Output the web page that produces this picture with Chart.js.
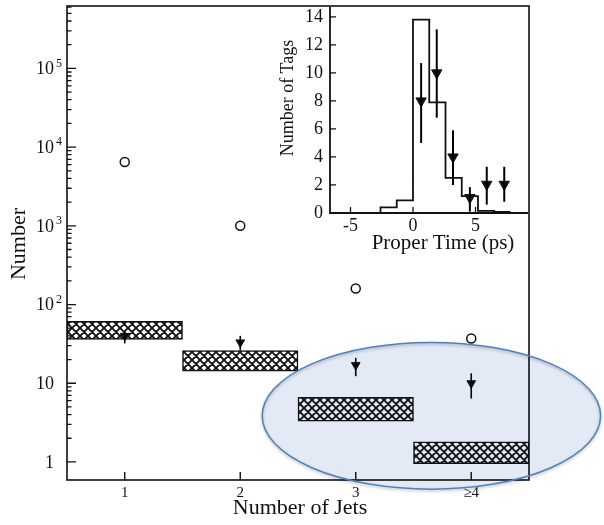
<!DOCTYPE html>
<html>
<head>
<meta charset="utf-8">
<title>Tagged events vs number of jets</title>
<script src="https://cdn.jsdelivr.net/npm/chart.js@4.4.0/dist/chart.umd.min.js"></script>
<style>
  html, body { margin: 0; padding: 0; background: #fff; }
  #wrap { position: relative; width: 604px; height: 525px; overflow: hidden; }
  #mainChart { position: absolute; left: 0; top: 0; }
  #insetChart { position: absolute; left: 270px; top: 0; }
</style>
</head>
<body>
<div id="wrap">
  <canvas id="mainChart" width="604" height="525"></canvas>
  <canvas id="insetChart" width="270" height="260"></canvas>
</div>
<script>
// main plot: events per jet bin
const jetBins = [1, 2, 3, 4];
const jetTickLabels = ['1', '2', '3', '\u22654'];
const yDecades = [1, 10, 100, 1000, 10000, 100000];
const yDecadeBase = ['1', '10', '10', '10', '10', '10'];
const yDecadeExp = ['', '', '2', '3', '4', '5'];

const pretagEvents = [6450, 1000, 160, 37];
const taggedEvents = [40, 33, 17, 10];
const taggedLow = [32, 26, 12.3, 6.4];
const taggedHigh = [44, 40, 21, 13.4];
const bkgLow = [36, 14.2, 3.3, 0.95];
const bkgHigh = [61, 26, 6.6, 1.8];

// inset: proper time of tags
const timeBinEdges = [-2.6, -1.3, 0, 1.3, 2.6, 3.9, 5.2, 6.5, 7.8];
const timeBinCounts = [0.4, 0.9, 13.8, 7.9, 2.5, 1.2, 0.15, 0.08];
const tagTimes = [0.65, 1.9, 3.2, 4.55, 5.9, 7.3];
const tagCounts = [8.0, 10.0, 4.0, 1.1, 2.05, 2.05];
const tagCountLow = [5.0, 6.8, 2.0, 0.1, 0.6, 0.8];
const tagCountHigh = [10.7, 13.1, 5.9, 1.85, 3.3, 3.3];
const insetXTicks = [-5, 0, 5];
const insetYTicks = [0, 2, 4, 6, 8, 10, 12, 14];

// highlight ellipse, in data units of the main plot
const ellipseX = [2.19, 5.12];
const ellipseY = [0.45, 33];

const SERIF = '"Liberation Serif", "DejaVu Serif", serif';

function makeHatch(ctx) {
    const c = document.createElement('canvas');
    c.width = 8; c.height = 8;
    const g = c.getContext('2d');
    g.fillStyle = '#fff';
    g.fillRect(0, 0, 8, 8);
    g.strokeStyle = '#111';
    g.lineWidth = 1.9;
    g.beginPath();
    [-8, 0, 8].forEach(function (o) {
        g.moveTo(o - 1, -1); g.lineTo(o + 9, 9);
        g.moveTo(o + 9, -1); g.lineTo(o - 1, 9);
    });
    g.stroke();
    return ctx.createPattern(c, 'repeat');
}

const mainDecor = {
    id: 'mainDecor',
    afterDatasetsDraw(chart) {
        const ctx = chart.ctx, x = chart.scales.x, y = chart.scales.y;
        ctx.save();
        ctx.strokeStyle = '#000';
        ctx.lineWidth = 1.6;
        jetBins.forEach(function (b, i) {
            const px = x.getPixelForValue(b);
            ctx.beginPath();
            ctx.moveTo(px, y.getPixelForValue(taggedLow[i]));
            ctx.lineTo(px, y.getPixelForValue(taggedHigh[i]));
            ctx.stroke();
        });
        ctx.restore();
    },
    afterDraw(chart) {
        const ctx = chart.ctx, a = chart.chartArea;
        const x = chart.scales.x, y = chart.scales.y;
        ctx.save();
        ctx.strokeStyle = '#111';
        ctx.lineWidth = 1.6;
        ctx.strokeRect(a.left, a.top, a.right - a.left, a.bottom - a.top);

        // inward log ticks
        ctx.lineWidth = 1.3;
        ctx.beginPath();
        yDecades.forEach(function (d) {
            for (let m = 1; m <= 9; m++) {
                const v = d * m;
                if (v < y.min * 1.05 || v > y.max * 0.98) continue;
                const py = y.getPixelForValue(v);
                ctx.moveTo(a.left, py);
                ctx.lineTo(a.left + (m === 1 ? 9 : 4.5), py);
            }
        });
        ctx.stroke();

        ctx.fillStyle = '#111';
        ctx.textBaseline = 'middle';
        yDecades.forEach(function (d, i) {
            const py = y.getPixelForValue(d);
            ctx.font = '18px ' + SERIF;
            ctx.textAlign = 'right';
            ctx.fillText(yDecadeBase[i], 54, py + 1);
            if (yDecadeExp[i]) {
                ctx.font = '12px ' + SERIF;
                ctx.textAlign = 'left';
                ctx.fillText(yDecadeExp[i], 56, py - 5);
            }
        });

        // x ticks
        ctx.lineWidth = 1.4;
        ctx.beginPath();
        jetBins.forEach(function (b) {
            const px = x.getPixelForValue(b);
            ctx.moveTo(px, a.bottom);
            ctx.lineTo(px, a.bottom - 8);
        });
        ctx.stroke();
        ctx.font = '15px ' + SERIF;
        ctx.textAlign = 'center';
        jetBins.forEach(function (b, i) {
            ctx.fillText(jetTickLabels[i], x.getPixelForValue(b), a.bottom + 13);
        });

        // axis titles
        ctx.font = '22px ' + SERIF;
        ctx.fillText('Number of Jets', 300, 508);
        ctx.save();
        ctx.translate(19, 244);
        ctx.rotate(-Math.PI / 2);
        ctx.fillText('Number', 0, 0);
        ctx.restore();

        // highlight ellipse: tint with multiply so the marks stay dark
        const x0 = x.getPixelForValue(ellipseX[0]), x1 = x.getPixelForValue(ellipseX[1]);
        const y0 = y.getPixelForValue(ellipseY[1]), y1 = y.getPixelForValue(ellipseY[0]);
        ctx.beginPath();
        ctx.ellipse((x0 + x1) / 2, (y0 + y1) / 2, (x1 - x0) / 2, (y1 - y0) / 2, 0, 0, Math.PI * 2);
        ctx.save();
        ctx.globalCompositeOperation = 'multiply';
        ctx.fillStyle = '#e3eaf5';
        ctx.fill();
        ctx.restore();
        ctx.shadowColor = 'rgba(0,0,0,0.3)';
        ctx.shadowBlur = 3;
        ctx.shadowOffsetY = 1.5;
        ctx.strokeStyle = '#4f81bd';
        ctx.lineWidth = 1.5;
        ctx.stroke();
        ctx.restore();
    }
};

const insetDecor = {
    id: 'insetDecor',
    afterDatasetsDraw(chart) {
        const ctx = chart.ctx, x = chart.scales.x, y = chart.scales.y;
        ctx.save();
        ctx.strokeStyle = '#000';
        ctx.lineWidth = 2;
        tagTimes.forEach(function (t, i) {
            const px = x.getPixelForValue(t);
            ctx.beginPath();
            ctx.moveTo(px, y.getPixelForValue(tagCountLow[i]));
            ctx.lineTo(px, y.getPixelForValue(tagCountHigh[i]));
            ctx.stroke();
        });
        ctx.restore();
    },
    afterDraw(chart) {
        const ctx = chart.ctx, a = chart.chartArea;
        const x = chart.scales.x, y = chart.scales.y;
        ctx.save();
        ctx.strokeStyle = '#111';
        ctx.lineWidth = 1.8;
        ctx.beginPath();
        ctx.moveTo(a.left, a.top);
        ctx.lineTo(a.left, a.bottom);
        ctx.lineTo(a.right, a.bottom);
        ctx.stroke();

        ctx.lineWidth = 1.3;
        ctx.beginPath();
        insetYTicks.forEach(function (v) {
            const py = y.getPixelForValue(v);
            ctx.moveTo(a.left, py);
            ctx.lineTo(a.left + 6, py);
        });
        insetXTicks.forEach(function (v) {
            const px = x.getPixelForValue(v);
            ctx.moveTo(px, a.bottom);
            ctx.lineTo(px, a.bottom - 6);
        });
        ctx.stroke();

        ctx.fillStyle = '#111';
        ctx.textBaseline = 'middle';
        ctx.font = '18px ' + SERIF;
        ctx.textAlign = 'right';
        insetYTicks.forEach(function (v) {
            ctx.fillText(String(v), a.left - 7, y.getPixelForValue(v));
        });
        ctx.textAlign = 'center';
        insetXTicks.forEach(function (v) {
            ctx.fillText(String(v), x.getPixelForValue(v), a.bottom + 13);
        });

        ctx.font = '21px ' + SERIF;
        ctx.fillText('Proper Time (ps)', 173, 243);
        ctx.save();
        ctx.translate(18, 98);
        ctx.rotate(-Math.PI / 2);
        ctx.font = '18px ' + SERIF;
        ctx.fillText('Number of Tags', 0, 0);
        ctx.restore();
        ctx.restore();
    }
};

function renderMainChart() {
    const ctx = document.getElementById('mainChart').getContext('2d');
    new Chart(ctx, {
        type: 'scatter',
        data: {
            datasets: [{
                type: 'bar',
                data: jetBins.map(function (b, i) { return { x: b, y: [bkgLow[i], bkgHigh[i]] }; }),
                backgroundColor: makeHatch(ctx),
                borderColor: '#111',
                borderWidth: 1.5,
                borderSkipped: false,
                barPercentage: 1,
                categoryPercentage: 1,
                order: 3
            }, {
                data: jetBins.map(function (b, i) { return { x: b, y: pretagEvents[i] }; }),
                pointStyle: 'circle',
                pointRadius: 4.5,
                pointBackgroundColor: '#fff',
                pointBorderColor: '#111',
                pointBorderWidth: 1.5,
                order: 2
            }, {
                data: jetBins.map(function (b, i) { return { x: b, y: taggedEvents[i] }; }),
                pointStyle: 'triangle',
                rotation: 180,
                pointRadius: 5,
                pointBackgroundColor: '#111',
                pointBorderColor: '#111',
                pointBorderWidth: 1,
                order: 1
            }]
        },
        options: {
            responsive: false,
            animation: false,
            layout: { padding: { top: 6, right: 75, left: 0, bottom: 0 } },
            plugins: { legend: { display: false }, tooltip: { enabled: false } },
            scales: {
                x: {
                    type: 'linear', min: 0.5, max: 4.5,
                    offset: false,
                    ticks: { display: false },
                    grid: { display: false, offset: false },
                    border: { display: false },
                    // ticks only at the jet bins, so bars fill a whole bin
                    afterBuildTicks: function (s) { s.ticks = jetBins.map(function (v) { return { value: v }; }); },
                    afterFit: function (s) { s.height = 45; }
                },
                y: {
                    type: 'logarithmic', min: 0.59, max: 620000,
                    ticks: { display: false },
                    grid: { display: false },
                    border: { display: false },
                    afterFit: function (s) { s.width = 67; }
                }
            }
        },
        plugins: [mainDecor]
    });
}

function renderInsetChart() {
    const ctx = document.getElementById('insetChart').getContext('2d');
    // step outline: each point closes a bin at its right edge
    const histPoints = [{ x: timeBinEdges[0], y: 0 }];
    timeBinCounts.forEach(function (c, i) { histPoints.push({ x: timeBinEdges[i + 1], y: c }); });

    new Chart(ctx, {
        type: 'scatter',
        data: {
            datasets: [{
                type: 'line',
                data: histPoints,
                stepped: 'after',
                borderColor: '#111',
                borderWidth: 1.8,
                pointRadius: 0,
                fill: false,
                order: 2
            }, {
                data: tagTimes.map(function (t, i) { return { x: t, y: tagCounts[i] }; }),
                pointStyle: 'triangle',
                rotation: 180,
                pointRadius: 6,
                pointBackgroundColor: '#111',
                pointBorderColor: '#111',
                pointBorderWidth: 1,
                order: 1
            }]
        },
        options: {
            responsive: false,
            animation: false,
            layout: { padding: { top: 6, right: 12, left: 0, bottom: 0 } },
            plugins: { legend: { display: false }, tooltip: { enabled: false } },
            scales: {
                x: {
                    type: 'linear', min: -6.64, max: 9.2,
                    ticks: { display: false },
                    grid: { display: false },
                    border: { display: false },
                    afterFit: function (s) { s.height = 47; }
                },
                y: {
                    type: 'linear', min: 0, max: 14.7,
                    ticks: { display: false },
                    grid: { display: false },
                    border: { display: false },
                    afterFit: function (s) { s.width = 60; }
                }
            }
        },
        plugins: [insetDecor]
    });
}

renderMainChart();
renderInsetChart();
</script>
</body>
</html>
